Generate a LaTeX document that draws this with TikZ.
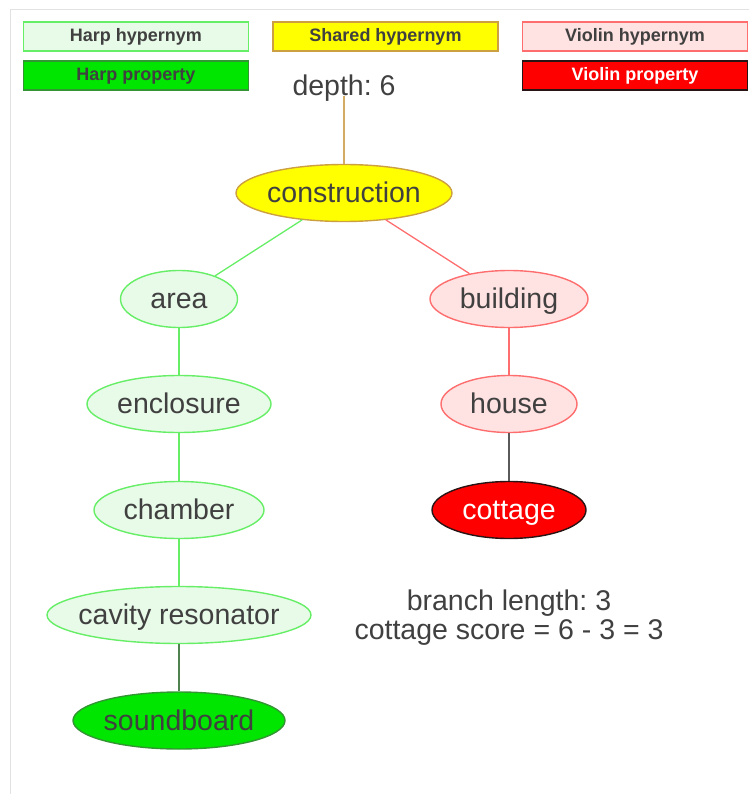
\documentclass[tikz,border=0pt]{standalone}
\usepackage{fontspec}
\setmainfont{Liberation Sans}
\usetikzlibrary{shapes.geometric}

\definecolor{txt}{RGB}{64,64,64}
\definecolor{framegray}{RGB}{226,226,226}
\definecolor{harpline}{RGB}{102,238,102}
\definecolor{harpfill}{RGB}{232,250,232}
\definecolor{harpprop}{RGB}{0,230,0}
\definecolor{harpdark}{RGB}{50,150,50}
\definecolor{harpedge}{RGB}{80,130,80}
\definecolor{sharedfill}{RGB}{255,255,0}
\definecolor{sharedline}{RGB}{204,160,64}
\definecolor{sharededge}{RGB}{212,172,100}
\definecolor{violinline}{RGB}{255,110,110}
\definecolor{violinfill}{RGB}{255,226,226}
\definecolor{violinprop}{RGB}{255,0,0}
\definecolor{violindark}{RGB}{40,20,20}
\definecolor{violinedge}{RGB}{90,90,90}

% label text sits in a zero-width box so the ellipse size comes from minimum width only
\newcommand\termtext[1]{\makebox[0pt]{#1}}

\begin{document}
\frenchspacing
\begin{tikzpicture}[x=1pt,y=-1pt,
  legendbox/.style={draw, line width=1.2pt, minimum width=225pt, minimum height=29pt,
    inner sep=0pt, font=\fontsize{18}{20}\selectfont\bfseries, text=txt,
    text height=13pt, text depth=3pt},
  term/.style={ellipse, draw, line width=1.4pt, minimum height=57pt, inner sep=0pt,
    font=\fontsize{28.5}{29}\selectfont, text=txt, text height=23pt, text depth=4pt},
  harphyp/.style={fill=harpfill, draw=harpline},
  harpprp/.style={fill=harpprop, draw=harpdark},
  sharedhyp/.style={fill=sharedfill, draw=sharedline},
  violinhyp/.style={fill=violinfill, draw=violinline},
  violinprp/.style={fill=violinprop, draw=violindark, text=white},
  link/.style={line width=1.3pt},
  plain/.style={font=\fontsize{28.5}{29}\selectfont, text=txt, inner sep=0pt}
]
\useasboundingbox (0,0) rectangle (749,794);

% page frame
\draw[framegray, line width=1pt] (10.5,794) -- (10.5,9.5) -- (749,9.5);

% legend
\node[legendbox, harphyp]   (lhh) at (136,36.5)   {Harp hypernym};
\node[legendbox, sharedhyp] (lsh) at (385.5,36.5) {Shared hypernym};
\node[legendbox, violinhyp] (lvh) at (635,36.5)   {Violin hypernym};
\node[legendbox, harpprp]   (lhp) at (136,75.5)   {Harp property};
\node[legendbox, violinprp] (lvp) at (635,75.5)   {Violin property};

% tree
\node[plain, anchor=base] (depth) at (344,96) {depth: 6};
\node[term, sharedhyp, minimum width=216pt] (construction) at (344,193) {\termtext{construction}};

\node[term, harphyp, minimum width=117pt] (area)      at (179,299) {\termtext{area}};
\node[term, harphyp, minimum width=184pt] (enclosure) at (179,404) {\termtext{enclosure}};
\node[term, harphyp, minimum width=170pt] (chamber)   at (179,510) {\termtext{chamber}};
\node[term, harphyp, minimum width=264pt] (cavity)    at (179,615) {\termtext{cavity resonator}};
\node[term, harpprp, minimum width=212pt] (soundboard) at (179,720.5) {\termtext{soundboard}};

\node[term, violinhyp, minimum width=158pt] (building) at (509,299) {\termtext{building}};
\node[term, violinhyp, minimum width=136pt] (house)    at (509,404) {\termtext{house}};
\node[term, violinprp, minimum width=154pt] (cottage)  at (509,510) {\termtext{cottage}};

% base of a two-line node is the baseline of its last line
\node[plain, anchor=base, align=center] (score) at (509,639)
  {branch length: 3\\cottage score = 6 - 3 = 3};

% connectors
\draw[link, sharededge] (depth.base) -- (construction);
\draw[link, harpline] (construction) -- (area);
\draw[link, harpline] (area) -- (enclosure);
\draw[link, harpline] (enclosure) -- (chamber);
\draw[link, harpline] (chamber) -- (cavity);
\draw[link, harpedge] (cavity) -- (soundboard);
\draw[link, violinline] (construction) -- (building);
\draw[link, violinline] (building) -- (house);
\draw[link, violinedge] (house) -- (cottage);
\end{tikzpicture}
\end{document}
